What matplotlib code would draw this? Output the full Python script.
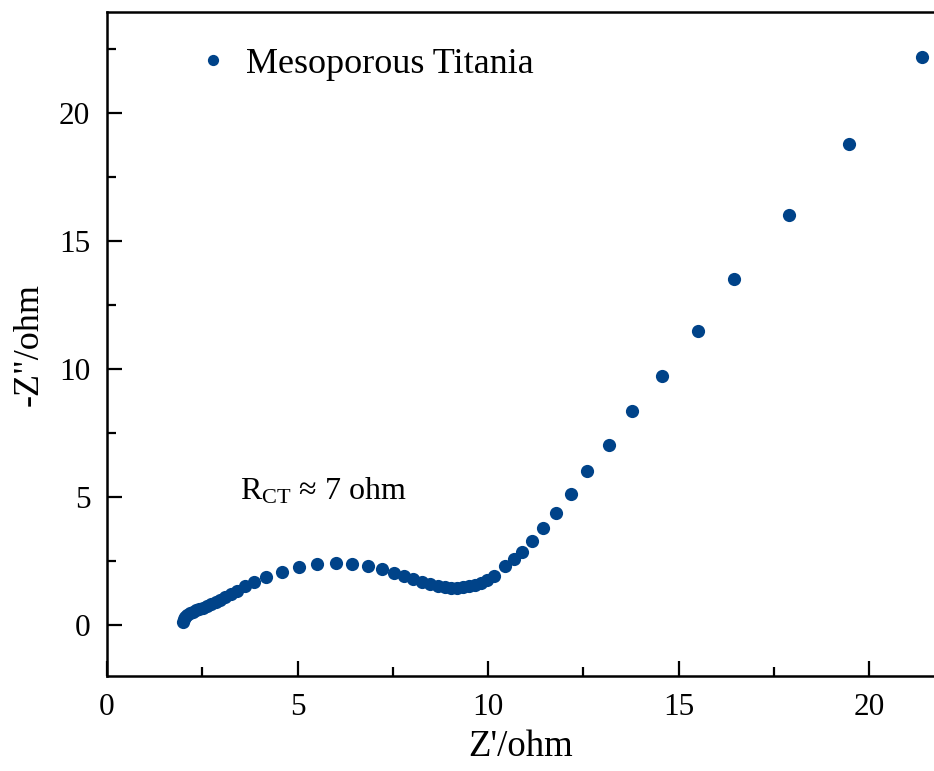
import matplotlib
matplotlib.use("Agg")
import matplotlib.pyplot as plt
from matplotlib.ticker import MultipleLocator

plt.rcParams['font.family'] = ['Liberation Serif', 'DejaVu Serif']
plt.rcParams['mathtext.fontset'] = 'custom'
plt.rcParams['mathtext.rm'] = 'Liberation Serif'
plt.rcParams['mathtext.it'] = 'Liberation Serif:italic'

series_label = "Mesoporous Titania"
z_real = [2.00, 2.02, 2.05, 2.10, 2.17, 2.25, 2.33, 2.42, 2.52, 2.62, 2.73, 2.85, 2.97,
          3.10, 3.25, 3.42, 3.62, 3.85, 4.18, 4.58, 5.03, 5.52, 6.00, 6.42, 6.85, 7.22,
          7.52, 7.80, 8.04, 8.27, 8.48, 8.68, 8.86, 9.02, 9.18, 9.34, 9.50, 9.66, 9.82,
          9.98, 10.14, 10.45, 10.67, 10.88, 11.16, 11.45, 11.77, 12.16, 12.58, 13.16,
          13.77, 14.56, 15.50, 16.45, 17.88, 19.47, 21.38]
z_imag = [0.10, 0.22, 0.32, 0.40, 0.46, 0.51, 0.56, 0.61, 0.67, 0.74, 0.81, 0.89, 0.98,
          1.08, 1.20, 1.34, 1.50, 1.67, 1.87, 2.08, 2.27, 2.38, 2.42, 2.39, 2.30, 2.17,
          2.03, 1.90, 1.78, 1.68, 1.60, 1.53, 1.48, 1.45, 1.45, 1.46, 1.50, 1.56, 1.64,
          1.74, 1.90, 2.28, 2.58, 2.86, 3.28, 3.79, 4.38, 5.12, 6.02, 7.03,
          8.36, 9.73, 11.5, 13.5, 16.0, 18.8, 22.2]
x_ticks = [0, 5, 10, 15, 20]
y_ticks = [0, 5, 10, 15, 20]

color = '#004389'

fig = plt.figure(figsize=(9.34, 7.71), dpi=100)
ax = fig.add_axes([107/934, 1 - 676/771, 1 - 107/934 + 0.001, (676 - 12)/771])
ax.plot(z_real, z_imag, 'o', color=color, markersize=9.5, markeredgewidth=0,
        label=series_label, clip_on=False)

ax.set_xlim(0, 21.72)
ax.set_ylim(-2.0, 23.95)
ax.set_xticks(x_ticks)
ax.set_yticks(y_ticks)
ax.xaxis.set_minor_locator(MultipleLocator(2.5))
ax.yaxis.set_minor_locator(MultipleLocator(2.5))
ax.tick_params(which='major', direction='in', length=11, width=1.6, labelsize=22.5)
ax.tick_params(axis='x', which='major', pad=12)
ax.tick_params(axis='y', which='major', pad=12)
ax.tick_params(which='minor', direction='in', length=6.5, width=1.6)
ax.tick_params(top=False, right=False, which='both')
for s in ['left', 'bottom', 'top']:
    ax.spines[s].set_linewidth(1.8)
ax.spines['right'].set_visible(False)

ax.set_xlabel("Z'/ohm", fontsize=26.5, labelpad=6)
ax.set_ylabel('-Z"/ohm', fontsize=26, labelpad=10)

ax.text(3.49, 4.9, r'R$_{\mathrm{CT}}$ ≈ 7 ohm', fontsize=23, ha='left', va='baseline')

leg = ax.legend(loc='center left', bbox_to_anchor=(0.1064, 0.9217), frameon=False,
                fontsize=26, handlelength=1.0, handletextpad=0.4, borderpad=0,
                markerscale=0.85, borderaxespad=0)

fig.savefig('out.png', dpi=100)
